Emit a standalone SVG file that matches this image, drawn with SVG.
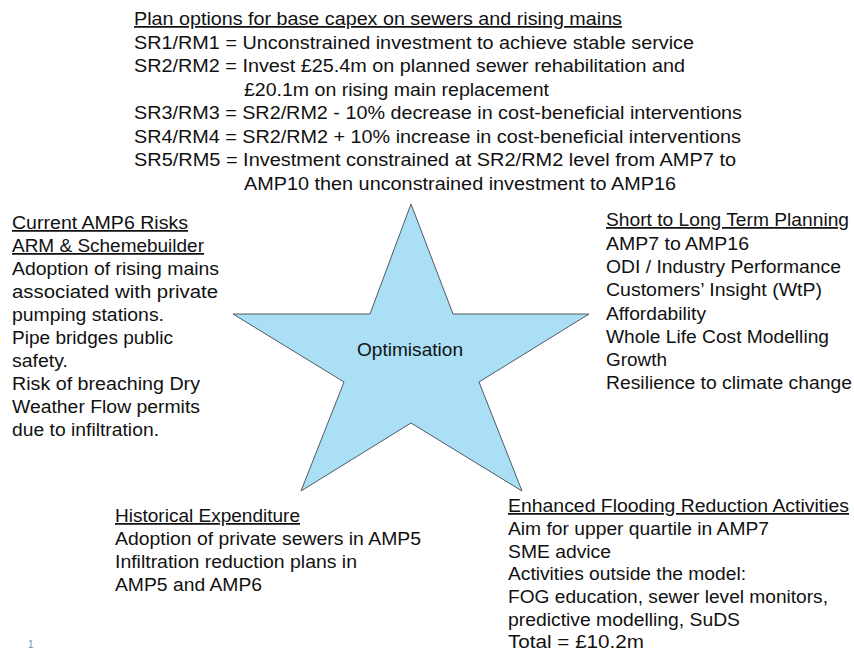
<svg xmlns="http://www.w3.org/2000/svg" width="854" height="651" viewBox="0 0 854 651">
<style>
.t{font-family:"Liberation Sans",Arial,sans-serif;font-size:17.5px;fill:#111}
.u{text-decoration:underline}
.star{fill:#abdff6;stroke:#4f5b63;stroke-width:1}
.pg{font-family:"Liberation Sans",Arial,sans-serif;font-size:10px;fill:#6f95bb}
</style>
<rect width="854" height="651" fill="#ffffff"/>
<g id="connectors"/>
<g id="optimisation">
<polygon class="star" points="411,204 453,314 589,314 479,382 522,491 411,423 301,491 344,382 233,314 370,314"/>
<text class="t" x="357" y="356" font-size="17.5" textLength="106" lengthAdjust="spacingAndGlyphs">Optimisation</text>
</g>
<g id="plan-options">
<text class="t u" x="134" y="25" textLength="488" lengthAdjust="spacingAndGlyphs">Plan options for base capex on sewers and rising mains</text>
<text class="t" x="134" y="48.5" textLength="560" lengthAdjust="spacingAndGlyphs">SR1/RM1 = Unconstrained  investment to achieve stable service</text>
<text class="t" x="134" y="72" textLength="551" lengthAdjust="spacingAndGlyphs">SR2/RM2 = Invest £25.4m on planned sewer rehabilitation and</text>
<text class="t" x="244" y="95.5" textLength="305" lengthAdjust="spacingAndGlyphs">£20.1m on rising main replacement</text>
<text class="t" x="134" y="119" textLength="608" lengthAdjust="spacingAndGlyphs">SR3/RM3 = SR2/RM2 - 10% decrease in cost-beneficial interventions</text>
<text class="t" x="134" y="142.5" textLength="607" lengthAdjust="spacingAndGlyphs">SR4/RM4 = SR2/RM2 + 10% increase in cost-beneficial interventions</text>
<text class="t" x="134" y="166" textLength="602" lengthAdjust="spacingAndGlyphs">SR5/RM5 = Investment constrained at SR2/RM2 level from AMP7 to</text>
<text class="t" x="244" y="189.5" textLength="432" lengthAdjust="spacingAndGlyphs">AMP10 then unconstrained  investment to AMP16</text>
</g>
<g id="current-risks">
<text class="t u" x="12" y="229" textLength="176" lengthAdjust="spacingAndGlyphs">Current AMP6 Risks</text>
<text class="t u" x="12" y="252" textLength="192" lengthAdjust="spacingAndGlyphs">ARM &amp; Schemebuilder</text>
<text class="t" x="12" y="275" textLength="207" lengthAdjust="spacingAndGlyphs">Adoption of rising mains</text>
<text class="t" x="12" y="298" textLength="206" lengthAdjust="spacingAndGlyphs">associated with private</text>
<text class="t" x="12" y="321" textLength="152" lengthAdjust="spacingAndGlyphs">pumping stations.</text>
<text class="t" x="12" y="344" textLength="161" lengthAdjust="spacingAndGlyphs">Pipe bridges public</text>
<text class="t" x="12" y="367" textLength="56" lengthAdjust="spacingAndGlyphs">safety.</text>
<text class="t" x="12" y="390" textLength="188" lengthAdjust="spacingAndGlyphs">Risk of breaching Dry</text>
<text class="t" x="12" y="413" textLength="188" lengthAdjust="spacingAndGlyphs">Weather Flow permits</text>
<text class="t" x="12" y="436" textLength="147" lengthAdjust="spacingAndGlyphs">due to infiltration.</text>
</g>
<g id="planning">
<text class="t u" x="606" y="226" textLength="243" lengthAdjust="spacingAndGlyphs">Short to Long Term Planning</text>
<text class="t" x="606" y="249.5" textLength="143" lengthAdjust="spacingAndGlyphs">AMP7 to AMP16</text>
<text class="t" x="606" y="273" textLength="235" lengthAdjust="spacingAndGlyphs">ODI / Industry Performance</text>
<text class="t" x="606" y="296" textLength="216" lengthAdjust="spacingAndGlyphs">Customers’ Insight (WtP)</text>
<text class="t" x="606" y="319.5" textLength="100" lengthAdjust="spacingAndGlyphs">Affordability</text>
<text class="t" x="606" y="342.5" textLength="223" lengthAdjust="spacingAndGlyphs">Whole Life Cost Modelling</text>
<text class="t" x="606" y="366" textLength="61" lengthAdjust="spacingAndGlyphs">Growth</text>
<text class="t" x="606" y="389" textLength="246" lengthAdjust="spacingAndGlyphs">Resilience to climate change</text>
</g>
<g id="historical">
<text class="t u" x="115" y="522" textLength="185" lengthAdjust="spacingAndGlyphs">Historical Expenditure</text>
<text class="t" x="115" y="545" textLength="306" lengthAdjust="spacingAndGlyphs">Adoption of private sewers in AMP5</text>
<text class="t" x="115" y="568" textLength="242" lengthAdjust="spacingAndGlyphs">Infiltration reduction plans in</text>
<text class="t" x="115" y="591" textLength="147" lengthAdjust="spacingAndGlyphs">AMP5 and AMP6</text>
</g>
<g id="flooding">
<text class="t u" x="508" y="512" textLength="341" lengthAdjust="spacingAndGlyphs">Enhanced Flooding Reduction Activities</text>
<text class="t" x="508" y="535" textLength="261" lengthAdjust="spacingAndGlyphs">Aim for upper quartile in AMP7</text>
<text class="t" x="508" y="557.5" textLength="103" lengthAdjust="spacingAndGlyphs">SME advice</text>
<text class="t" x="508" y="580" textLength="238" lengthAdjust="spacingAndGlyphs">Activities outside the model:</text>
<text class="t" x="508" y="603" textLength="320" lengthAdjust="spacingAndGlyphs">FOG education, sewer level monitors,</text>
<text class="t" x="508" y="625.5" textLength="232" lengthAdjust="spacingAndGlyphs">predictive modelling,  SuDS</text>
<text class="t" x="508" y="648" textLength="136" lengthAdjust="spacingAndGlyphs">Total = £10.2m</text>
</g>
<text class="pg" x="28" y="648">1</text>
</svg>
